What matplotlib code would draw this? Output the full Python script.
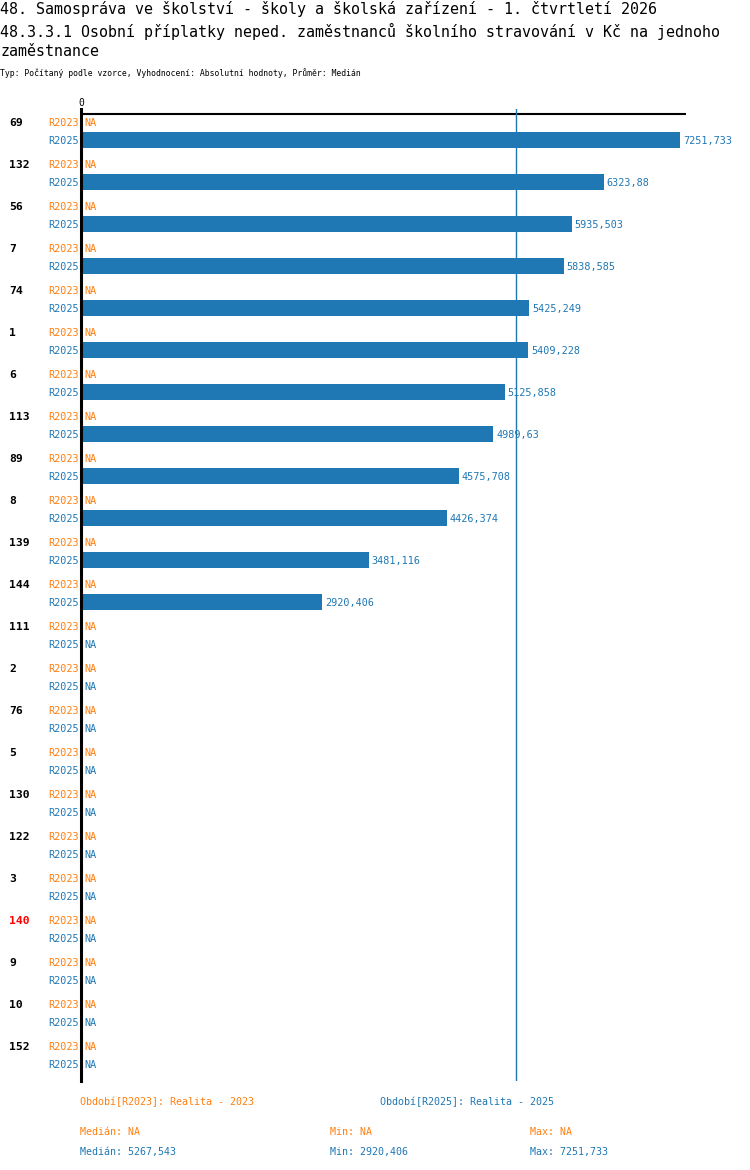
import matplotlib.pyplot as plt
import matplotlib.transforms as mtransforms
import numpy as np

# data
groups = ['69', '132', '56', '7', '74', '1', '6', '113', '89', '8', '139', '144',
          '111', '2', '76', '5', '130', '122', '3', '140', '9', '10', '152']
r2023 = [None] * len(groups)
r2025 = [7251.733, 6323.88, 5935.503, 5838.585, 5425.249, 5409.228, 5125.858,
         4989.63, 4575.708, 4426.374, 3481.116, 2920.406] + [None] * 11
highlight = '140'
median_2025 = 5267.543
min_2025 = 2920.406
max_2025 = 7251.733

title1 = '48. Samospráva ve školství - školy a školská zařízení - 1. čtvrtletí 2026'
title2 = '48.3.3.1 Osobní příplatky neped. zaměstnanců školního stravování v Kč na jednoho'
title3 = 'zaměstnance'
subtitle = 'Typ: Počítaný podle vzorce, Vyhodnocení: Absolutní hodnoty, Průměr: Medián'

ORANGE = '#ff7f0e'
BLUE = '#1f77b4'
MONO = 'DejaVu Sans Mono'

W, H = 750, 1170


def fx(px):
    return px / W


def fy(py):
    return 1 - py / H


def fmt(v):
    return str(v).replace('.', ',')


fig = plt.figure(figsize=(7.5, 11.7), dpi=100)
plt.rcParams['font.family'] = [MONO, 'DejaVu Sans']

# titulky
fig.text(0, fy(9), title1, fontsize=10.8, va='center', ha='left')
fig.text(0, fy(31), title2, fontsize=10.8, va='center', ha='left')
fig.text(0, fy(52), title3, fontsize=10.8, va='center', ha='left')
fig.text(0, fy(73), subtitle, fontsize=5.9, va='center', ha='left')

# osa
ax = fig.add_axes([fx(81), fy(1081), fx(686) - fx(81), (1081 - 109) / H])
n = len(groups)
ax.set_ylim(22.595, -0.548)
ax.set_xlim(0, 7320)
for s in ['top', 'right', 'bottom']:
    ax.spines[s].set_visible(False)
ax.spines['left'].set_linewidth(2.2)
ax.set_xticks([])
ax.set_yticks([])
ax.axhline(-0.4286, color='black', lw=1.5)
ax.axvline(median_2025, color=BLUE, lw=1)
fig.text(fx(81), fy(103), '0', fontsize=7, ha='center', va='center')

pos = np.arange(n)
vals = np.array([v if v is not None else 0 for v in r2025])
ax.barh(pos + 0.19, vals, height=0.38, color=BLUE)

trans = mtransforms.blended_transform_factory(fig.transFigure, ax.transData)
for i, g in enumerate(groups):
    ax.text(fx(9), i - 0.214, g, transform=trans, fontsize=8.2, fontweight='bold',
            color='red' if g == highlight else 'black', va='center', ha='left')
    ax.text(fx(79), i - 0.214, 'R2023', transform=trans, fontsize=7.3,
            color=ORANGE, va='center', ha='right')
    ax.text(fx(79), i + 0.214, 'R2025', transform=trans, fontsize=7.3,
            color=BLUE, va='center', ha='right')
    if r2023[i] is None:
        ax.text(fx(84), i - 0.214, 'NA', transform=trans, fontsize=7.3,
                color=ORANGE, va='center', ha='left')
    if r2025[i] is None:
        ax.text(fx(84), i + 0.214, 'NA', transform=trans, fontsize=7.3,
                color=BLUE, va='center', ha='left')
    else:
        ax.annotate(fmt(r2025[i]), (r2025[i], i + 0.214), xytext=(2, 0),
                    textcoords='offset points', fontsize=7.3, color=BLUE,
                    va='center', ha='left', annotation_clip=False)

# legenda dole
fs = 7.2
fig.text(fx(80), fy(1102), 'Období[R2023]: Realita - 2023', color=ORANGE, fontsize=fs, va='center')
fig.text(fx(380), fy(1102), 'Období[R2025]: Realita - 2025', color=BLUE, fontsize=fs, va='center')
fig.text(fx(80), fy(1132), 'Medián: NA', color=ORANGE, fontsize=fs, va='center')
fig.text(fx(330), fy(1132), 'Min: NA', color=ORANGE, fontsize=fs, va='center')
fig.text(fx(530), fy(1132), 'Max: NA', color=ORANGE, fontsize=fs, va='center')
fig.text(fx(80), fy(1152), 'Medián: ' + fmt(median_2025), color=BLUE, fontsize=fs, va='center')
fig.text(fx(330), fy(1152), 'Min: ' + fmt(min_2025), color=BLUE, fontsize=fs, va='center')
fig.text(fx(530), fy(1152), 'Max: ' + fmt(max_2025), color=BLUE, fontsize=fs, va='center')

fig.savefig('out.png', dpi=100)
